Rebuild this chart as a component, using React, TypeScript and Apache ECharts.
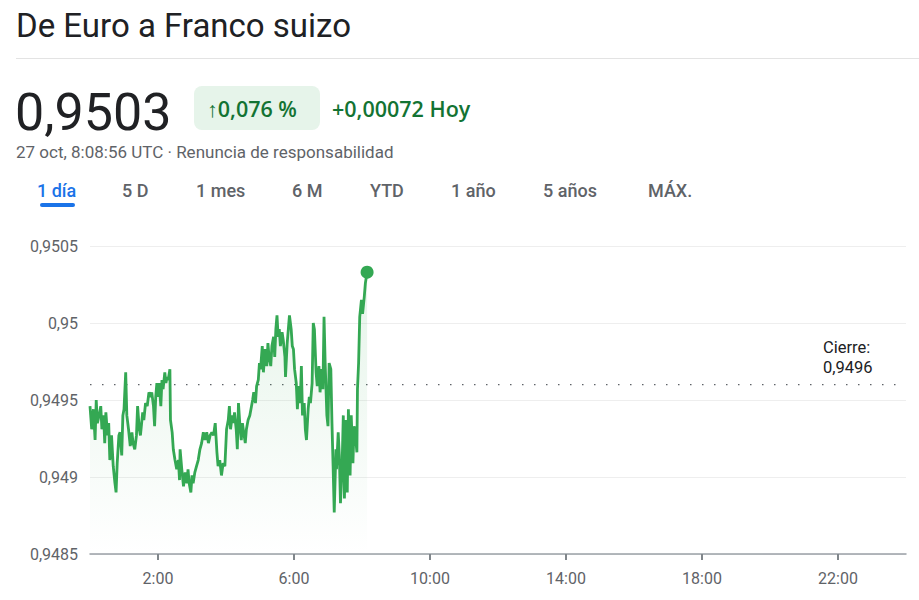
import React, { useEffect, useRef } from "react";
import * as echarts from "echarts";

// Intraday minutes since 0:00 UTC
const timeMinutes = [
  0, 3, 6, 9, 11, 13, 16, 19, 21, 24, 26, 28, 31, 33, 35, 38, 41, 44, 46, 48,
  51, 53, 56, 58, 60, 63, 65, 68, 71, 74, 76, 79, 82, 84, 87, 89, 93, 95, 98, 101,
  104, 107, 109, 112, 114, 116, 118, 121, 122, 125, 127, 129, 132, 134, 136, 138, 141, 142, 145, 147,
  150, 153, 156, 158, 159, 162, 165, 168, 171, 173, 175, 178, 180, 182, 185, 188, 191, 194, 197, 200,
  203, 206, 209, 212, 215, 218, 221, 224, 226, 229, 232, 235, 238, 241, 244, 246, 248, 251, 253, 255,
  258, 260, 262, 265, 267, 269, 272, 274, 276, 279, 282, 285, 287, 289, 292, 294, 297, 299, 301, 304,
  306, 309, 312, 314, 316, 319, 321, 324, 326, 328, 330, 332, 334, 336, 339, 341, 344, 345, 348, 350,
  352, 355, 357, 359, 361, 364, 366, 368, 371, 373, 375, 378, 380, 382, 385, 387, 389, 392, 394, 396,
  399, 401, 404, 406, 409, 411, 413, 415, 418, 420, 422, 425, 427, 429, 431, 434, 435, 438, 440, 442,
  445, 447, 449, 452, 454, 456, 459, 461, 464, 466, 468, 471, 472, 474, 476, 479, 481, 484, 486, 489,
];

const prices = [
  0.94946, 0.94931, 0.94944, 0.94924, 0.9495, 0.94935, 0.9494, 0.94946, 0.94931, 0.9494,
  0.94922, 0.94942, 0.94927, 0.94935, 0.94911, 0.94927, 0.94907, 0.94896, 0.9489, 0.94909,
  0.94927, 0.94929, 0.94914, 0.9494, 0.94944, 0.94968, 0.9494, 0.94931, 0.9492, 0.94929,
  0.94922, 0.94918, 0.94927, 0.94946, 0.94931, 0.94927, 0.94942, 0.94937, 0.94948, 0.94946,
  0.94955, 0.94952, 0.94955, 0.94946, 0.94933, 0.94952, 0.94961, 0.94952, 0.94961, 0.94946,
  0.94963, 0.94957, 0.94968, 0.94961, 0.94965, 0.94963, 0.9497, 0.94937, 0.94929, 0.94918,
  0.94911, 0.94905, 0.94911, 0.94898, 0.94918, 0.94905, 0.94894, 0.94903, 0.94896, 0.94905,
  0.94896, 0.9489, 0.94901, 0.94896, 0.94903, 0.94907, 0.94911, 0.94918, 0.94922, 0.94929,
  0.94924, 0.94929, 0.94922, 0.94927, 0.94929, 0.94927, 0.94935, 0.94916, 0.94907, 0.94911,
  0.94901, 0.94909, 0.94907, 0.94931, 0.94937, 0.94946, 0.94931, 0.9494, 0.94935, 0.94942,
  0.94931, 0.94918, 0.94948, 0.94931, 0.94924, 0.94935, 0.94927, 0.94922, 0.94931, 0.94937,
  0.9494, 0.94946, 0.9495, 0.94955, 0.94948, 0.94959, 0.94963, 0.94974, 0.9497, 0.94985,
  0.94968, 0.94983, 0.94972, 0.94987, 0.94978, 0.94972, 0.94985, 0.94991, 0.94978, 0.94996,
  0.95005, 0.94991, 0.94996, 0.94985, 0.94994, 0.94989, 0.94978, 0.94965, 0.94987, 0.94996,
  0.95005, 0.94996, 0.94985, 0.94983, 0.9497, 0.94961, 0.94944, 0.94959, 0.94948, 0.94972,
  0.9494, 0.94948, 0.94931, 0.94924, 0.94944, 0.94952, 0.94948, 0.94961, 0.95, 0.94996,
  0.94968, 0.94959, 0.94972, 0.94955, 0.9497, 0.94957, 0.95004, 0.94974, 0.9494, 0.94933,
  0.94974, 0.9497, 0.94935, 0.94907, 0.94877, 0.94918, 0.94905, 0.94929, 0.94914, 0.94883,
  0.94909, 0.9494, 0.94886, 0.94937, 0.9489, 0.94944, 0.94901, 0.9494, 0.94909, 0.94933,
  0.94929, 0.94916, 0.94957, 0.94974, 0.95004, 0.95015, 0.95006, 0.95017, 0.95026, 0.95033,
];

const closeValue = 0.9496;
const dayRangeMinutes = [0, 1440];
const yTickValues = [0.9485, 0.949, 0.9495, 0.95, 0.9505];
const xTickMinutes = [120, 360, 600, 840, 1080, 1320];
const xTickLabels = ["2:00", "6:00", "10:00", "14:00", "18:00", "22:00"];
const rangeTabs = ["1 día", "5 D", "1 mes", "6 M", "YTD", "1 año", "5 años", "MÁX."];
const tabX = [37, 122, 196, 292, 370, 451, 543, 648];

const titleText = "De Euro a Franco suizo";
const priceText = "0,9503";
const changePctText = "↑0,076 %";
const changeAbsText = "+0,00072 Hoy";
const subtitleText = "27 oct, 8:08:56 UTC · Renuncia de responsabilidad";
const closeLabel = "Cierre:";

const fmtNum = (v: number) => {
  let s = v.toFixed(4);
  s = s.replace(/0+$/, "").replace(/\.$/, "");
  return s.replace(".", ",");
};

const FONT = "Roboto, 'Noto Sans', sans-serif";
const WIDE = "'Open Sans', Roboto, sans-serif";

export default function App() {
  const ref = useRef<HTMLDivElement>(null);

  useEffect(() => {
    if (!ref.current) return;
    const chart = echarts.init(ref.current, undefined, { renderer: "svg" });
    const seriesData = timeMinutes.map((t, i) => [t, prices[i]]);
    const last = seriesData[seriesData.length - 1];
    const closeData = dayRangeMinutes.map((t) => [t, closeValue]);

    const tabGraphics: any[] = rangeTabs.map((label, i) => ({
      type: "text",
      x: tabX[i],
      y: 190,
      style: {
        text: label,
        font: `500 18px ${FONT}`,
        fill: i === 0 ? "#1a73e8" : "#5f6368",
        textAlign: "left",
        textVerticalAlign: "middle",
      },
    }));

    chart.setOption({
      animation: false,
      backgroundColor: "#ffffff",
      textStyle: { fontFamily: FONT },
      grid: { left: 90, right: 13, top: 246, bottom: 46 },
      xAxis: {
        type: "value",
        min: 0,
        max: 1440,
        axisLine: { show: true, lineStyle: { color: "#9aa0a6", width: 1.5 } },
        axisTick: {
          show: true,
          customValues: xTickMinutes,
          length: 6,
          lineStyle: { color: "#80868b", width: 2 },
        },
        axisLabel: {
          customValues: xTickMinutes,
          formatter: (v: number) => {
            const idx = xTickMinutes.indexOf(v);
            return idx >= 0 ? xTickLabels[idx] : "";
          },
          color: "#5f6368",
          fontSize: 16,
          fontFamily: FONT,
          margin: 16,
        },
        splitLine: { show: false },
      },
      yAxis: {
        type: "value",
        min: yTickValues[0],
        max: yTickValues[yTickValues.length - 1],
        interval: 0.0005,
        axisLine: { show: false },
        axisTick: { show: false },
        axisLabel: {
          formatter: (v: number) => fmtNum(v),
          color: "#5f6368",
          fontSize: 16,
          fontFamily: FONT,
          margin: 12,
        },
        splitLine: { show: true, lineStyle: { color: "#eeeeee", width: 1 } },
      },
      series: [
        {
          type: "line",
          data: closeData,
          showSymbol: false,
          symbol: "none",
          silent: true,
          lineStyle: { color: "#5f6368", type: [1.5, 10.5], width: 1.2 },
          z: 2,
        },
        {
          type: "line",
          data: seriesData,
          showSymbol: false,
          symbol: "none",
          lineStyle: { color: "#34a853", width: 2.8 },
          areaStyle: {
            color: new echarts.graphic.LinearGradient(0, 0, 0, 1, [
              { offset: 0, color: "rgba(52,168,83,0.18)" },
              { offset: 1, color: "rgba(52,168,83,0.0)" },
            ]),
          },
          z: 3,
        },
        {
          type: "scatter",
          data: [last],
          symbol: "circle",
          symbolSize: 13,
          itemStyle: { color: "#34a853", opacity: 1 },
          z: 4,
        },
      ],
      graphic: [
        {
          type: "text",
          x: 16,
          y: 25,
          style: {
            text: titleText,
            font: `400 33px ${FONT}`,
            fill: "#202124",
            textAlign: "left",
            textVerticalAlign: "middle",
          },
        },
        {
          type: "line",
          shape: { x1: 16, y1: 58.5, x2: 919, y2: 58.5 },
          style: { stroke: "#e3e3e3", lineWidth: 1 },
        },
        {
          type: "text",
          x: 15,
          y: 112,
          style: {
            text: priceText,
            font: `400 52px ${FONT}`,
            fill: "#202124",
            textAlign: "left",
            textVerticalAlign: "middle",
          },
        },
        {
          type: "rect",
          shape: { x: 194, y: 86, width: 126, height: 44, r: 8 },
          style: { fill: "#e6f4ea" },
        },
        {
          type: "text",
          x: 207,
          y: 108,
          style: {
            text: changePctText,
            font: `600 21.5px ${WIDE}`,
            fill: "#137333",
            textAlign: "left",
            textVerticalAlign: "middle",
          },
        },
        {
          type: "text",
          x: 332,
          y: 108,
          style: {
            text: changeAbsText,
            font: `600 21.5px ${WIDE}`,
            fill: "#137333",
            textAlign: "left",
            textVerticalAlign: "middle",
          },
        },
        {
          type: "text",
          x: 16,
          y: 152,
          style: {
            text: subtitleText,
            font: `400 17px ${FONT}`,
            fill: "#5f6368",
            textAlign: "left",
            textVerticalAlign: "middle",
          },
        },
        ...tabGraphics,
        {
          type: "rect",
          shape: { x: 40, y: 203, width: 35, height: 4, r: 2 },
          style: { fill: "#1a73e8" },
        },
        {
          type: "text",
          x: 823,
          y: 347,
          style: {
            text: closeLabel,
            font: `400 16.5px ${FONT}`,
            fill: "#202124",
            textAlign: "left",
            textVerticalAlign: "middle",
          },
        },
        {
          type: "text",
          x: 823,
          y: 367,
          style: {
            text: fmtNum(closeValue),
            font: `400 16.5px ${FONT}`,
            fill: "#202124",
            textAlign: "left",
            textVerticalAlign: "middle",
          },
        },
      ],
    });

    return () => chart.dispose();
  }, []);

  return (
    <div
      ref={ref}
      style={{ position: "fixed", left: 0, top: 0, width: 919, height: 600 }}
    />
  );
}
